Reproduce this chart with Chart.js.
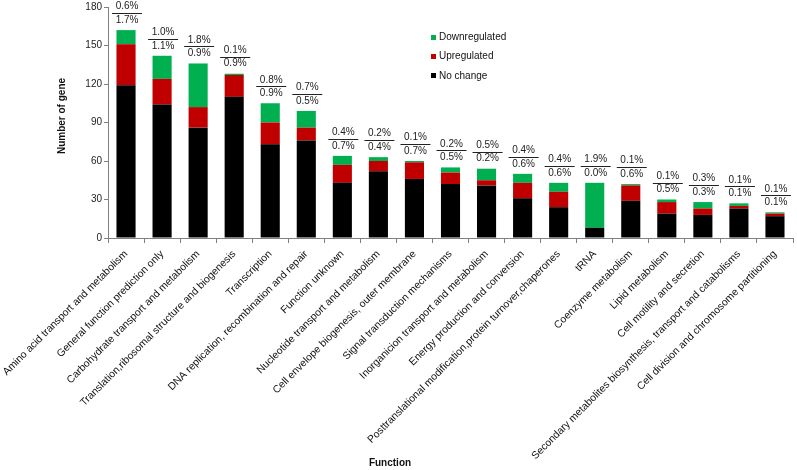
<!DOCTYPE html>
<html>
<head>
<meta charset="utf-8">
<script src="https://cdn.jsdelivr.net/npm/chart.js@4"></script>
<style>
html,body{margin:0;padding:0;background:#fff;}
#wrap{width:797px;height:470px;}
</style>
</head>
<body>
<div id="wrap"><canvas id="c" width="797" height="470"></canvas></div>
<script>
const categories = [
  'Amino acid transport and metabolism',
  'General function prediction only',
  'Carbohydrate transport and metabolism',
  'Translation,ribosomal structure and biogenesis',
  'Transcription',
  'DNA replication, recombination and repair',
  'Function unknown',
  'Nucleotide transport and metabolism',
  'Cell envelope biogenesis, outer membrane',
  'Signal transduction mechanisms',
  'Inorganicion transport and metabolism',
  'Energy production and conversion',
  'Posttranslational modification,protein turnover,chaperones',
  'tRNA',
  'Coenzyme metabolism',
  'Lipid metabolism',
  'Cell motility and secretion',
  'Secondary metabolites biosynthesis, transport and catabolisms',
  'Cell division and chromosome partitioning'
];
const noChange      = [119,104,86,110,73,76,43,52,46,42,41,31,24,8,29,19,18,23,17];
const upregulated   = [32,20,16,17,17,10,14,8,13,9,4,12,12,0,12,9,5,2,2];
const downregulated = [11,18,34,1,15,13,7,3,1,4,9,7,7,35,1,2,5,2,1];
const pctTop    = ['0.6%','1.0%','1.8%','0.1%','0.8%','0.7%','0.4%','0.2%','0.1%','0.2%','0.5%','0.4%','0.4%','1.9%','0.1%','0.1%','0.3%','0.1%','0.1%'];
const pctBottom = ['1.7%','1.1%','0.9%','0.9%','0.9%','0.5%','0.7%','0.4%','0.7%','0.5%','0.2%','0.6%','0.6%','0.0%','0.6%','0.5%','0.3%','0.1%','0.1%'];
const yTicks = [0,30,60,90,120,150,180];
const seriesNames = ['No change','Upregulated','Downregulated'];

const FAM = '"Liberation Sans", Arial, Helvetica, sans-serif';
const GREEN = '#00B050', RED = '#C00000', BLACK = '#000000';
const AXIS = '#808080';

const pctPlugin = {
  id: 'pct',
  afterDatasetsDraw(chart) {
    const ctx = chart.ctx, xs = chart.scales.x, ys = chart.scales.y;
    ctx.save();
    ctx.font = '10px ' + FAM;
    ctx.fillStyle = '#222';
    ctx.textAlign = 'center';
    ctx.textBaseline = 'middle';
    ctx.strokeStyle = '#222';
    ctx.lineWidth = 1;
    categories.forEach((c, i) => {
      const total = noChange[i] + upregulated[i] + downregulated[i];
      const x = xs.getPixelForValue(i);
      const yTop = ys.getPixelForValue(total);
      ctx.fillText(pctBottom[i], x + 1, yTop - 10);
      ctx.beginPath();
      ctx.moveTo(x - 14, Math.round(yTop - 17) + 0.5);
      ctx.lineTo(x + 16, Math.round(yTop - 17) + 0.5);
      ctx.stroke();
      ctx.fillText(pctTop[i], x + 1, yTop - 23.5);
    });
    ctx.restore();
  },
  afterDraw(chart) {
    const ctx = chart.ctx;
    ctx.save();
    const items = [[seriesNames[2], GREEN], [seriesNames[1], RED], [seriesNames[0], BLACK]];
    ctx.font = '10px ' + FAM;
    ctx.textBaseline = 'middle';
    ctx.textAlign = 'left';
    items.forEach((it, k) => {
      const y = 37.5 + k * 19.2;
      ctx.fillStyle = it[1];
      ctx.fillRect(431, Math.round(y - 2.5), 5, 5);
      ctx.fillStyle = '#111';
      ctx.fillText(it[0], 439, y);
    });
    ctx.font = 'bold 10px ' + FAM;
    ctx.fillStyle = '#111';
    ctx.textAlign = 'center';
    ctx.fillText('Function', 390, 463);
    ctx.translate(62, 116);
    ctx.rotate(-Math.PI / 2);
    ctx.fillText('Number of gene', 0, 0);
    ctx.restore();
  }
};

new Chart(document.getElementById('c'), {
  type: 'bar',
  data: {
    labels: categories,
    datasets: [
      {label: seriesNames[0], data: noChange, backgroundColor: BLACK},
      {label: seriesNames[1], data: upregulated, backgroundColor: RED},
      {label: seriesNames[2], data: downregulated, backgroundColor: GREEN}
    ]
  },
  options: {
    responsive: false,
    animation: false,
    devicePixelRatio: 1,
    layout: {padding: {top: 7, right: 4, bottom: 0, left: 0}},
    datasets: {bar: {barPercentage: 0.53, categoryPercentage: 1}},
    plugins: {legend: {display: false}, tooltip: {enabled: false}},
    scales: {
      x: {
        stacked: true,
        grid: {display: true, offset: true, drawOnChartArea: false, drawTicks: true, tickLength: 5, color: AXIS},
        border: {display: true, color: AXIS},
        ticks: {autoSkip: false, maxRotation: 45, minRotation: 45, font: {family: FAM, size: 10.4}, color: '#111', padding: 5},
        afterFit(s) { s.height = 232; s.paddingLeft = 0; s.paddingRight = 0; }
      },
      y: {
        stacked: true,
        min: 0, max: 180,
        afterBuildTicks(s) { s.ticks = yTicks.map(v => ({value: v})); },
        grid: {display: true, drawOnChartArea: false, drawTicks: true, tickLength: 4, color: AXIS},
        border: {display: true, color: AXIS},
        ticks: {font: {family: FAM, size: 10}, color: '#222', padding: 2},
        afterFit(s) { s.width = 108; s.paddingTop = 0; s.paddingBottom = 0; }
      }
    }
  },
  plugins: [pctPlugin]
});
</script>
</body>
</html>
